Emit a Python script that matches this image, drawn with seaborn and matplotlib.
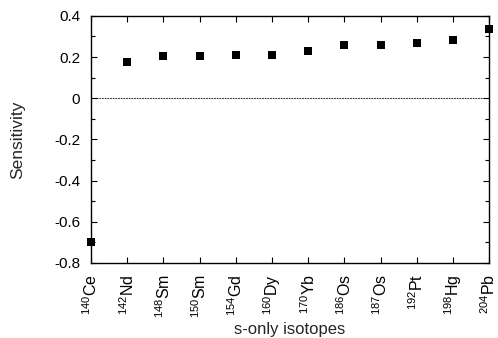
import matplotlib
matplotlib.use("Agg")
import matplotlib.pyplot as plt
import seaborn as sns
import pandas as pd
from matplotlib.ticker import MultipleLocator

masses = ["140", "142", "148", "150", "154", "160", "170", "186", "187", "192", "198", "204"]
elements = ["Ce", "Nd", "Sm", "Sm", "Gd", "Dy", "Yb", "Os", "Os", "Pt", "Hg", "Pb"]
sensitivity = [-0.70, 0.175, 0.203, 0.203, 0.208, 0.212, 0.228, 0.257, 0.257, 0.266, 0.285, 0.335]

labels = [r"$^{%s}$%s" % (m, e) for m, e in zip(masses, elements)]
df = pd.DataFrame({"isotope": labels, "sensitivity": sensitivity})

sns.set_theme(style="ticks")
plt.rcParams["font.family"] = ["Liberation Sans", "DejaVu Sans"]
plt.rcParams["mathtext.fontset"] = "custom"
plt.rcParams["mathtext.rm"] = "Liberation Sans"

fig = plt.figure(figsize=(4.98, 3.38), dpi=100)
ax = fig.add_axes([0.183, 0.222, 0.799, 0.731])

sns.scatterplot(data=df, x="isotope", y="sensitivity", marker="s", s=38,
                color="black", edgecolor="black", linewidth=0, ax=ax, clip_on=False, zorder=5)
ax.axhline(0, color="black", linestyle=(0, (2, 1.2)), linewidth=0.6)

ax.set_xlim(0, len(labels) - 1)
ax.set_ylim(-0.8, 0.4)
ax.yaxis.set_major_locator(MultipleLocator(0.2))
ax.yaxis.set_minor_locator(MultipleLocator(0.1))
ax.set_yticklabels([("%g" % t) if abs(t) > 1e-9 else "0" for t in ax.get_yticks()])
ax.tick_params(axis="both", which="both", direction="in", top=True, right=True,
               color="black", labelcolor="black")
ax.tick_params(axis="y", labelsize=11, pad=8)
ax.tick_params(axis="x", labelsize=11.5, pad=8, labelrotation=90)
ax.tick_params(which="major", length=4, width=0.8)
ax.tick_params(which="minor", length=3, width=0.8)
for sp in ax.spines.values():
    sp.set_linewidth(1.0)
    sp.set_color("black")

ax.set_xlabel("s-only isotopes", fontsize=12)
ax.set_ylabel("Sensitivity", fontsize=12.5)
ax.xaxis.label.set_va("baseline")
ax.xaxis.set_label_coords(0.5, -0.287)
ax.yaxis.set_label_coords(-0.166, 0.5)

fig.savefig("out.png", dpi=100)
